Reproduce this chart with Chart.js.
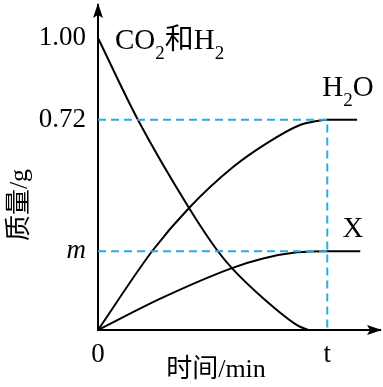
<!DOCTYPE html>
<html>
<head>
<meta charset="utf-8">
<script src="https://cdn.jsdelivr.net/npm/chart.js@4.4.1/dist/chart.umd.min.js"></script>
<style>
  html, body { margin: 0; padding: 0; background: #fff; }
  #wrap { width: 383px; height: 387px; }
</style>
</head>
<body>
<div id="wrap"><canvas id="massChart"></canvas></div>
<script>
(() => {
  "use strict";

  // tick values and labels
  const timeTicks = [0, 10];
  const timeTickLabels = ["0", "t"];
  const massTicks = [0.27, 0.72, 1.0];
  const massTickLabels = ["m", "0.72", "1.00"];

  // curves (time in units where t = 10)
  const co2Time = [0, 1.74, 3.97, 5.19, 5.84, 7.19, 8.68, 9.16];
  const co2Mass = [1.0, 0.72, 0.418, 0.274, 0.212, 0.11, 0.017, 0];

  const h2oTime = [0, 2.4, 3.97, 5.89, 7.37, 8.81, 9.55, 10, 11.3];
  const h2oMass = [0, 0.274, 0.418, 0.558, 0.64, 0.702, 0.716, 0.72, 0.72];

  const xTime = [0, 2.79, 5.84, 7.2, 8.68, 10, 11.44];
  const xMass = [0, 0.11, 0.212, 0.245, 0.266, 0.27, 0.27];

  const endTime = 10;
  const h2oFinal = 0.72;
  const xFinal = 0.27;

  const SERIF = "'Liberation Serif', 'Times New Roman', 'Noto Sans CJK SC', serif";
  const GUIDE_BLUE = "#29abe2";

  const toPoints = (xs, ys) => xs.map((x, i) => ({ x, y: ys[i] }));

  // rich text with subscripts, drawn left to right from (x, y) baseline
  function drawRich(ctx, parts, x, y, size) {
    let cx = x;
    parts.forEach((p) => {
      const s = p.sub ? Math.round(size * 0.66) : size;
      ctx.font = `${s}px ${SERIF}`;
      ctx.fillText(p.t, cx, p.sub ? y + 10 : y);
      cx += ctx.measureText(p.t).width;
    });
  }

  const seriesLabels = [
    { at: [0.74, 0.962], parts: [{ t: "CO" }, { t: "2", sub: true }, { t: "和" }, { t: "H" }, { t: "2", sub: true }] },
    { at: [9.78, 0.80], parts: [{ t: "H" }, { t: "2", sub: true }, { t: "O" }] },
    { at: [10.66, 0.317], parts: [{ t: "X" }] }
  ];

  const decorPlugin = {
    id: "axisDecor",
    afterDraw(chart) {
      const { ctx, chartArea: a, scales } = chart;
      ctx.save();
      ctx.fillStyle = "#000";

      // arrow heads
      ctx.beginPath();
      ctx.moveTo(a.left, a.top - 2);
      ctx.lineTo(a.left - 5, a.top + 13);
      ctx.lineTo(a.left, a.top + 10);
      ctx.lineTo(a.left + 5, a.top + 13);
      ctx.closePath();
      ctx.fill();

      ctx.beginPath();
      ctx.moveTo(a.right + 2, a.bottom);
      ctx.lineTo(a.right - 13, a.bottom - 5);
      ctx.lineTo(a.right - 10, a.bottom);
      ctx.lineTo(a.right - 13, a.bottom + 5);
      ctx.closePath();
      ctx.fill();

      // series labels
      ctx.textBaseline = "alphabetic";
      ctx.textAlign = "left";
      seriesLabels.forEach((lab) => {
        const px = scales.x.getPixelForValue(lab.at[0]);
        const py = scales.y.getPixelForValue(lab.at[1]);
        drawRich(ctx, lab.parts, px, py, 29);
      });

      // axis titles
      ctx.font = `26px ${SERIF}`;
      ctx.textAlign = "center";
      ctx.textBaseline = "middle";
      ctx.fillText("时间/min", a.left + 118, a.bottom + 40);

      ctx.translate(a.left - 78, a.bottom - 125);
      ctx.rotate(-Math.PI / 2);
      ctx.fillText("质量/g", 0, 0);
      ctx.restore();
    }
  };

  const curve = (data) => ({
    data,
    borderColor: "#000",
    borderWidth: 2,
    pointRadius: 0,
    cubicInterpolationMode: "monotone",
    clip: 4
  });

  const guide = (data) => ({
    data,
    borderColor: GUIDE_BLUE,
    borderWidth: 2,
    borderDash: [8, 5],
    pointRadius: 0,
    tension: 0,
    clip: 4
  });

  new Chart(document.getElementById("massChart"), {
    type: "line",
    data: {
      datasets: [
        guide([{ x: 0, y: h2oFinal }, { x: endTime, y: h2oFinal }, { x: endTime, y: 0 }]),
        guide([{ x: 0, y: xFinal }, { x: endTime, y: xFinal }]),
        curve(toPoints(co2Time, co2Mass)),
        curve(toPoints(h2oTime, h2oMass)),
        curve(toPoints(xTime, xMass))
      ]
    },
    options: {
      responsive: true,
      maintainAspectRatio: false,
      animation: false,
      layout: { padding: { top: 5, right: 3, left: 0, bottom: 0 } },
      plugins: { legend: { display: false }, tooltip: { enabled: false } },
      scales: {
        x: {
          type: "linear",
          min: 0,
          max: 12.3,
          afterBuildTicks(scale) {
            scale.ticks = timeTicks.map((value) => ({ value }));
          },
          afterFit(scale) {
            scale.height = 57;
            scale.paddingLeft = 0;
            scale.paddingRight = 0;
          },
          grid: { display: false, drawTicks: false },
          border: { display: true, color: "#000", width: 2 },
          ticks: {
            color: "#000",
            padding: 9,
            maxRotation: 0,
            autoSkip: false,
            font: { family: SERIF, size: 27 },
            callback: (value) => timeTickLabels[timeTicks.indexOf(value)]
          }
        },
        y: {
          type: "linear",
          min: 0,
          max: 1.113,
          afterBuildTicks(scale) {
            scale.ticks = massTicks.map((value) => ({ value }));
          },
          afterFit(scale) {
            scale.width = 98;
            scale.paddingTop = 0;
            scale.paddingBottom = 0;
          },
          grid: { display: false, drawTicks: false },
          border: { display: true, color: "#000", width: 2 },
          ticks: {
            color: "#000",
            padding: 12,
            autoSkip: false,
            font: (c) => ({
              family: SERIF,
              size: 27,
              style: c.tick && c.tick.value === massTicks[0] ? "italic" : "normal"
            }),
            callback: (value) => massTickLabels[massTicks.indexOf(value)]
          }
        }
      }
    },
    plugins: [decorPlugin]
  });
})();
</script>
</body>
</html>
